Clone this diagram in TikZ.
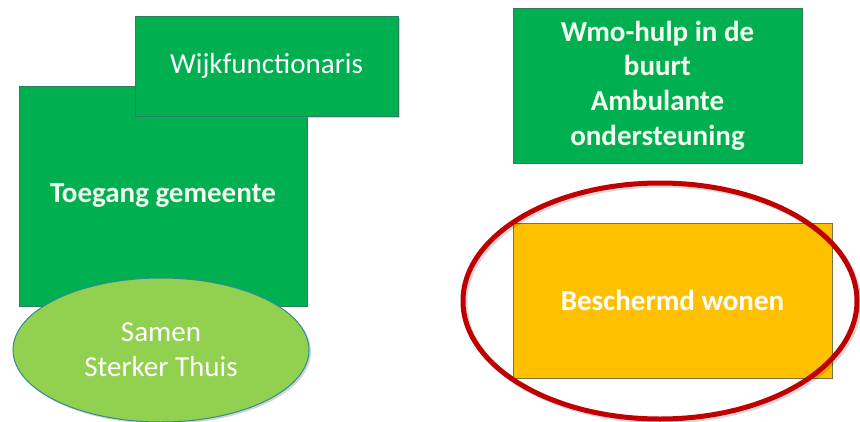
\documentclass[tikz,border=0pt]{standalone}
\usepackage{fontspec}
\setmainfont{Carlito}
\usetikzlibrary{shapes.geometric,shadows}

\definecolor{groen}{HTML}{00B050}
\definecolor{randgroen}{HTML}{2A7F5E}
\definecolor{lichtgroen}{HTML}{92D050}
\definecolor{randblauw}{HTML}{2E8C96}
\definecolor{oranje}{HTML}{FFC000}
\definecolor{randoranje}{HTML}{7A7440}
\definecolor{rood}{HTML}{C00000}
\definecolor{tekstwit}{HTML}{F2FFF0}

\tikzset{
  blok/.style={draw=randgroen, line width=1pt, fill=groen, text=tekstwit, align=center, inner sep=0pt},
  vet/.style={font=\fontsize{29}{34.7}\selectfont\bfseries},
  gewoon/.style={font=\fontsize{29}{35}\selectfont},
  schaduw/.style={drop shadow={shadow xshift=2pt, shadow yshift=-2pt, opacity=0.35}},
  ring/.style={draw=rood, line width=5pt}
}

\begin{document}
\begin{tikzpicture}[x=1pt,y=-1pt]
\useasboundingbox (0,0) rectangle (860,421);

% linkerkant
\node[blok, vet, minimum width=288pt, minimum height=220pt] (toegang) at (163,196) {Toegang gemeente};
\node[blok, gewoon, text=white, schaduw, minimum width=263pt, minimum height=100pt] (wijk) at (266.5,66) {Wijkfunctionaris};
\node[ellipse, draw=randblauw, line width=1pt, fill=lichtgroen, text=white, gewoon, align=center,
      inner sep=0pt, schaduw, minimum width=296pt, minimum height=144pt] (samen) at (161,350) {Samen\\Sterker Thuis};

% rechterkant
\node[blok, vet, minimum width=289pt, minimum height=155pt] (wmo) at (657.5,85.5) {Wmo-hulp in de\\buurt\\Ambulante\\ondersteuning};
\node[blok, vet, draw=randoranje, fill=oranje, text=white, minimum width=319pt, minimum height=155pt] (beschermd) at (672.5,300.5) {Beschermd wonen};
\draw[line width=5pt, black, opacity=0.15] (662,303) ellipse [x radius=197, y radius=118];
\draw[ring] (660,301) ellipse [x radius=197, y radius=118];

\end{tikzpicture}
\end{document}
